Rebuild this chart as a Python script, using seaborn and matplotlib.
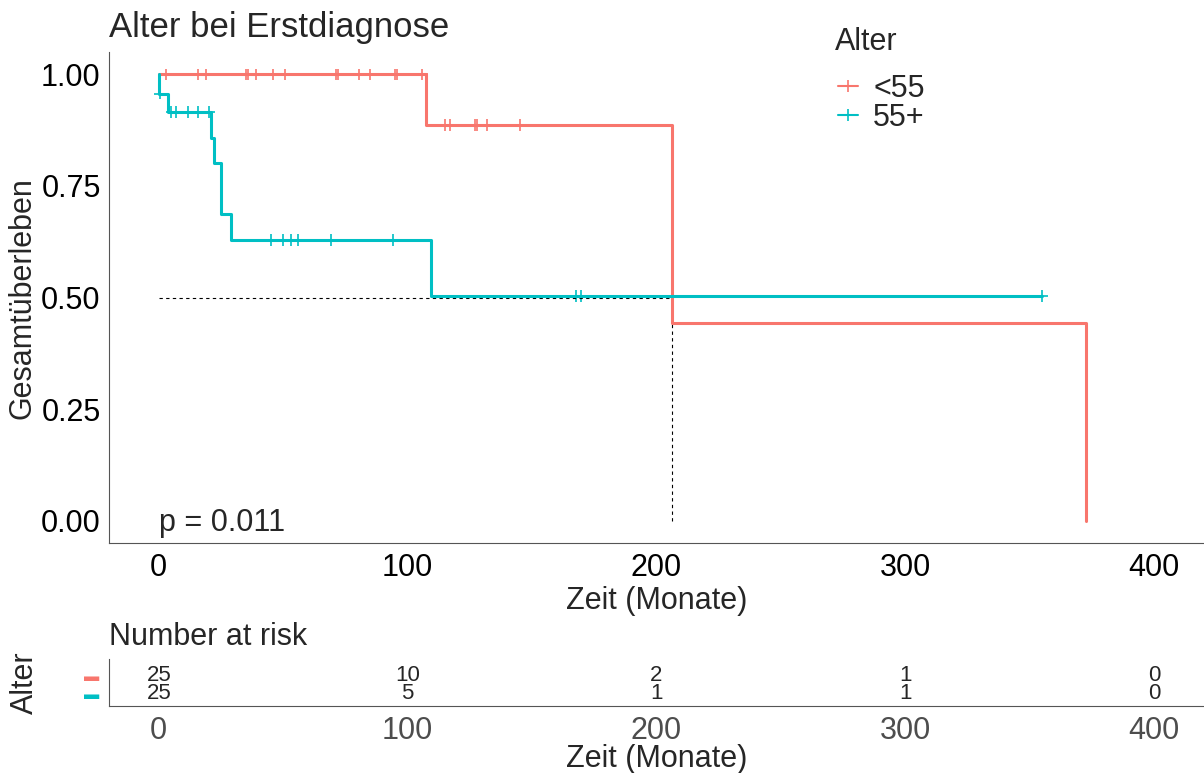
import numpy as np
import pandas as pd
import matplotlib
matplotlib.use("Agg")
import matplotlib.pyplot as plt
from matplotlib.lines import Line2D
import seaborn as sns

# Kaplan-Meier Stufen
zeit_lt55 = [0, 107.3, 206.4, 372.7]
surv_lt55 = [1.0, 0.886, 0.443, 0.0]
zeit_55p = [0, 0, 3.9, 20.8, 22.2, 25.1, 29.1, 109.4, 354.9]
surv_55p = [1.0, 0.957, 0.915, 0.857, 0.802, 0.686, 0.629, 0.503, 0.503]

# zensierte Beobachtungen
zens_lt55 = [2.8, 15.7, 18.8, 34.9, 35.8, 38.9, 46.0, 50.9, 71.3, 72.1, 80.3,
             84.8, 95.0, 95.9, 105.8, 115.0, 117.0, 127.1, 127.7, 132.0, 145.1]
zens_55p = [0.3, 5.1, 6.8, 11.9, 15.9, 20.2, 44.9, 50.0, 53.0, 56.0, 69.2,
            94.2, 167.8, 169.8, 354.9]

# Number at risk
risk_zeit = [0, 100, 200, 300, 400]
risk_lt55 = [25, 10, 2, 1, 0]
risk_55p = [25, 5, 1, 1, 0]

gruppen = ["<55", "55+"]
farben = {"<55": "#F8766D", "55+": "#00BFC4"}
median_zeit = 206.4


def stufenwert(zeiten, werte, t):
    i = np.searchsorted(zeiten, t, side="right") - 1
    return werte[i]


kurven = pd.concat([
    pd.DataFrame({"Zeit": zeit_lt55, "Surv": surv_lt55, "Alter": "<55"}),
    pd.DataFrame({"Zeit": zeit_55p, "Surv": surv_55p, "Alter": "55+"}),
])
zensiert = pd.concat([
    pd.DataFrame({"Zeit": zens_lt55,
                  "Surv": [stufenwert(zeit_lt55, surv_lt55, t) for t in zens_lt55],
                  "Alter": "<55"}),
    pd.DataFrame({"Zeit": zens_55p,
                  "Surv": [stufenwert(zeit_55p, surv_55p, t) for t in zens_55p],
                  "Alter": "55+"}),
])

sns.set_style("white")
plt.rcParams["font.family"] = ["Liberation Sans", "DejaVu Sans"]

W, H = 1204, 773
fig = plt.figure(figsize=(W / 100, H / 100), dpi=100)


def box(l, t, r, b):
    return [l / W, 1 - b / H, (r - l) / W, (b - t) / H]


ax = fig.add_axes(box(109, 52, 1204, 543))

# Median-Linien
ax.plot([0, median_zeit], [0.5, 0.5], color="black", lw=0.8, ls=(0, (3, 3)))
ax.plot([median_zeit, median_zeit], [0, 0.5], color="black", lw=0.8, ls=(0, (3, 3)))

sns.lineplot(data=kurven, x="Zeit", y="Surv", hue="Alter", palette=farben,
             hue_order=gruppen, estimator=None, sort=False, units="Alter",
             drawstyle="steps-post", lw=2.2, legend=False, ax=ax)
sns.scatterplot(data=zensiert, x="Zeit", y="Surv", hue="Alter", palette=farben,
                hue_order=gruppen, marker="+", s=70, linewidth=1.2,
                legend=False, ax=ax)

ax.set_xlim(-20, 420)
ax.set_ylim(-0.05, 1.05)
ax.set_xticks(risk_zeit)
ax.set_yticks([0, 0.25, 0.5, 0.75, 1.0])
ax.set_yticklabels(["0.00", "0.25", "0.50", "0.75", "1.00"])
ax.tick_params(labelsize=22, colors="#555555", labelcolor="black", length=4, width=0.8)
ax.tick_params(axis="y", pad=2)
ax.set_xlabel("Zeit (Monate)", fontsize=22, labelpad=2)
ax.set_ylabel("")
for s in ["top", "right"]:
    ax.spines[s].set_visible(False)
for s in ["left", "bottom"]:
    ax.spines[s].set_color("#555555")
    ax.spines[s].set_linewidth(0.8)

ax.text(0, -0.005, "p = 0.011", fontsize=22, ha="left", va="center")

fig.text(109 / W, 1 - 28 / H, "Alter bei Erstdiagnose", fontsize=25,
         ha="left", va="center")
fig.text(23 / W, 1 - 298 / H, "Gesamtüberleben", fontsize=22, rotation=90,
         ha="center", va="center")

# Legende
fig.text(835 / W, 1 - 42 / H, "Alter", fontsize=22, ha="left", va="center")
handles = [Line2D([], [], color=farben[g], lw=1.5, marker="+", markersize=9,
                  markeredgewidth=1.2) for g in gruppen]
fig.legend(handles, gruppen, loc="upper left",
           bbox_to_anchor=(832 / W, 1 - 68 / H), frameon=False,
           fontsize=22, handlelength=0.65, handletextpad=0.5,
           labelspacing=-0.05, borderaxespad=0, borderpad=0.2)

# Risikotabelle
rx = fig.add_axes(box(109, 659, 1204, 706))
for zeile, (g, werte) in enumerate([("55+", risk_55p), ("<55", risk_lt55)]):
    for t, n in zip(risk_zeit, werte):
        rx.text(t, zeile, str(n), fontsize=16, ha="center", va="center")
rx.set_xlim(-20, 420)
rx.set_ylim(-0.72, 1.89)
rx.set_xticks(risk_zeit)
rx.set_yticks([0, 1])
rx.set_yticklabels(["▬", "▬"], fontsize=11)
for lab, g in zip(rx.get_yticklabels(), ["55+", "<55"]):
    lab.set_color(farben[g])
rx.tick_params(axis="y", length=0, pad=7)
rx.tick_params(axis="x", labelsize=22, colors="#555555", labelcolor="#4D4D4D",
               length=4, width=0.8)
rx.set_xlabel("Zeit (Monate)", fontsize=22, labelpad=-2)
for s in ["top", "right"]:
    rx.spines[s].set_visible(False)
for s in ["left", "bottom"]:
    rx.spines[s].set_color("#555555")
    rx.spines[s].set_linewidth(0.8)

fig.text(109 / W, 1 - 637 / H, "Number at risk", fontsize=22, ha="left", va="center")
fig.text(25 / W, 1 - 683 / H, "Alter", fontsize=22, rotation=90,
         ha="center", va="center")

fig.savefig("out.png", dpi=100, facecolor="white")
